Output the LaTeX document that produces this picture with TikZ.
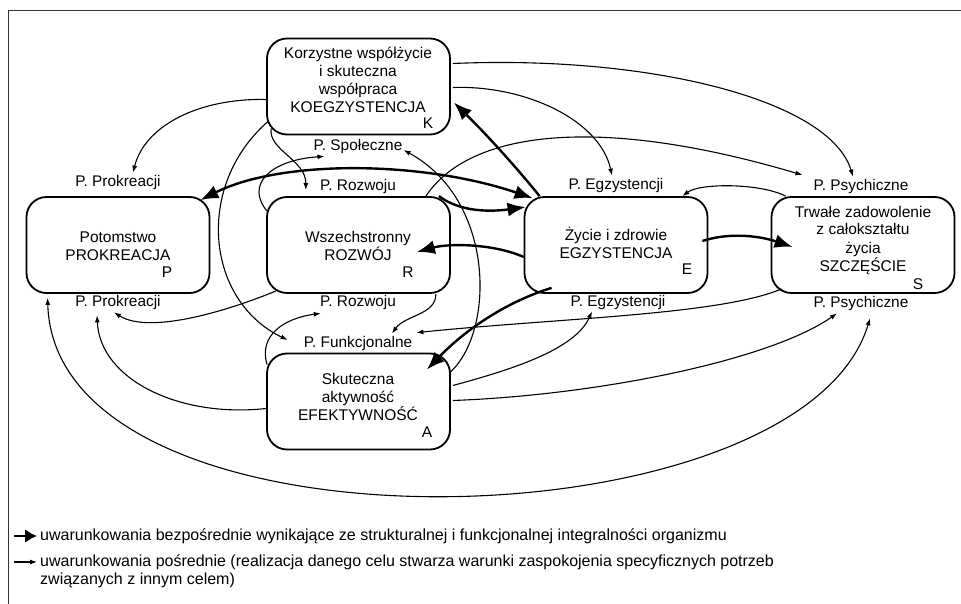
\documentclass[tikz,border=0pt]{standalone}
\usepackage{fontspec}
\setmainfont{Liberation Sans}
\usetikzlibrary{arrows.meta,calc}
\begin{document}
\begin{tikzpicture}[x=1pt,y=-1pt,
    goal/.style={draw,line width=1.8pt,rounded corners=20pt,minimum width=183pt,minimum height=96pt,inner sep=0pt},
    txt/.style={align=center,inner sep=0pt,font=\fontsize{15.5}{18}\selectfont},
    need/.style={inner sep=1pt,font=\fontsize{15.4}{18}\selectfont},
    legtxt/.style={inner sep=0pt,anchor=west,font=\fontsize{16}{18}\selectfont},
    bigtip/.tip={Latex[length=18pt,width=14pt]},
    smalltip/.tip={Latex[length=7pt,width=5pt]},
    direct/.style={line width=2.4pt,-bigtip},
    indirect/.style={line width=1.1pt,-smalltip}]
  \useasboundingbox (0,0) rectangle (961,604);
  \draw[line width=0.9pt,black!80] (8,10) rectangle (1000,650);

  % cele
  \node[goal] (K) at (358.5,86.5) {};
  \node[goal] (P) at (118,245) {};
  \node[goal] (R) at (358.5,245) {};
  \node[goal] (E) at (616,245) {};
  \node[goal] (S) at (863,245) {};
  \node[goal] (A) at (358.5,401.5) {};
  \node[txt] (Kt) at (358,80) {Korzystne współżycie\\i skuteczna\\współpraca\\KOEGZYSTENCJA};
  \node[txt] (Pt) at (118,246) {Potomstwo\\PROKREACJA};
  \node[txt] (Rt) at (358,246) {Wszechstronny\\ROZWÓJ};
  \node[txt] (Et) at (616,243) {Życie i zdrowie\\EGZYSTENCJA};
  \node[txt] (St) at (863,240) {Trwałe zadowolenie\\z całokształtu\\życia\\SZCZĘŚCIE};
  \node[txt] (At) at (358,397) {Skuteczna\\aktywność\\EFEKTYWNOŚĆ};
  \node[txt] (Kl) at (428,123) {K};
  \node[txt] (Pl) at (167,272) {P};
  \node[txt] (Rl) at (408,272) {R};
  \node[txt] (El) at (687,269) {E};
  \node[txt] (Sl) at (918,284) {S};
  \node[txt] (Al) at (427,432) {A};

  % potrzeby
  \node[need] (pPt) at (118,183) {P. Prokreacji};
  \node[need] (pPb) at (118,303) {P. Prokreacji};
  \node[need] (pRt) at (358,187) {P. Rozwoju};
  \node[need] (pRb) at (358,303) {P. Rozwoju};
  \node[need] (pSp) at (358,147) {P. Społeczne};
  \node[need] (pEt) at (616,186) {P. Egzystencji};
  \node[need] (pEb) at (618,303) {P. Egzystencji};
  \node[need] (pSt) at (861,187) {P. Psychiczne};
  \node[need] (pSb) at (861,304) {P. Psychiczne};
  \node[need] (pF) at (358,344) {P. Funkcjonalne};

  % uwarunkowania bezposrednie
  \draw[direct,bigtip-bigtip] ($(P.north east)+(-10,4)$) .. controls (280,160) and (420,160) .. ($(E.north west)+(9,2)$);
  \draw[direct] ($(R.north east)+(-12,0)$) .. controls (460,212) and (490,212) .. ($(E.west)+(2,-38)$);
  \draw[direct] ($(E.west)+(0,12)$) .. controls (495,244) and (450,243) .. ($(R.east)+(-34,7)$);
  \draw[direct] ($(E.east)+(-6,-4)$) .. controls (730,232) and (760,236) .. ($(S.west)+(22,2)$);
  \draw[direct] ($(E.north west)+(16,0)$) .. controls (512,162) and (482,130) .. ($(K.east)+(3,16)$);
  \draw[direct] ($(E.south west)+(28,-6)$) .. controls (512,300) and (470,325) .. ($(A.north east)+(-24,17)$);

  % uwarunkowania posrednie
  \draw[indirect] ($(K.west)+(0,13)$) .. controls (200,98) and (145,125) .. ($(pPt.north)+(15,-2)$);
  \draw[indirect] ($(K.south west)+(5,-7)$) .. controls (268,150) and (306,160) .. ($(pRt.west)+(-13,3)$);
  \draw[indirect] ($(K.east)+(2,-23)$) .. controls (650,55) and (830,100) .. ($(pSt.north)+(-8,-2)$);
  \draw[indirect] ($(K.east)+(2,1)$) .. controls (525,85) and (600,120) .. ($(pEt.north)+(-4,-2)$);
  \draw[indirect] ($(K.south west)+(2,-14)$) .. controls (195,185) and (205,300) .. ($(pF.west)+(-15,-4)$);
  \draw[indirect] ($(R.north east)+(-25,0)$) .. controls (470,130) and (600,115) .. ($(pSt.west)+(-10,-12)$);
  \draw[indirect] ($(R.south west)+(10,-3)$) .. controls (230,310) and (150,335) .. ($(pPb.south)+(-4,1)$);
  \draw[indirect] ($(R.south east)+(-15,0)$) .. controls (436,315) and (405,315) .. ($(pF.north)+(34,-2)$);
  \draw[indirect] ($(R.north west)+(1,15)$) .. controls (245,185) and (270,160) .. ($(pSp.south west)+(12,1)$);
  \draw[indirect] ($(A.north west)+(1,12)$) .. controls (258,335) and (285,318) .. ($(pRb.south west)+(2,2)$);
  \draw[indirect] ($(A.west)+(0,7)$) .. controls (180,418) and (100,380) .. ($(pPb.south)+(-21,4)$);
  \draw[indirect] ($(A.east)+(2,-16)$) .. controls (510,370) and (575,350) .. ($(pEb.south)+(-26,0)$);
  \draw[indirect] ($(A.east)+(2,-1)$) .. controls (600,395) and (770,360) .. ($(pSb.south)+(-24,1)$);
  \draw[indirect] ($(A.north east)+(0,19)$) .. controls (495,330) and (495,200) .. ($(pSp.east)+(0,3)$);
  \draw[indirect] ($(S.south west)+(11,-5)$) .. controls (720,315) and (560,318) .. ($(pF.north east)+(3,-3)$);
  \draw[indirect] ($(S.north west)+(15,0)$) .. controls (760,183) and (700,183) .. ($(E.north east)+(-26,0)$);
  \draw[indirect,smalltip-smalltip] ($(P.south west)+(22,4)$) .. controls (55,565) and (800,550) .. ($(pSb.south)+(9,6)$);

  % legenda
  \coordinate (d0) at (14,536);
  \coordinate (i0) at (14,562);
  \node[legtxt] (dtxt) at (40,536) {uwarunkowania bezpośrednie wynikające ze strukturalnej i funkcjonalnej integralności organizmu};
  \node[legtxt] (itxt) at (40,562) {uwarunkowania pośrednie (realizacja danego celu stwarza warunki zaspokojenia specyficznych potrzeb};
  \node[legtxt] (itxt2) at (40,580) {związanych z innym celem)};
  \draw[line width=2.4pt,-{Latex[length=12pt,width=14pt]}] (d0) -- ($(dtxt.west)+(-3,0)$);
  \draw[indirect] (i0) -- ($(itxt.west)+(-3,0)$);
\end{tikzpicture}
\end{document}
